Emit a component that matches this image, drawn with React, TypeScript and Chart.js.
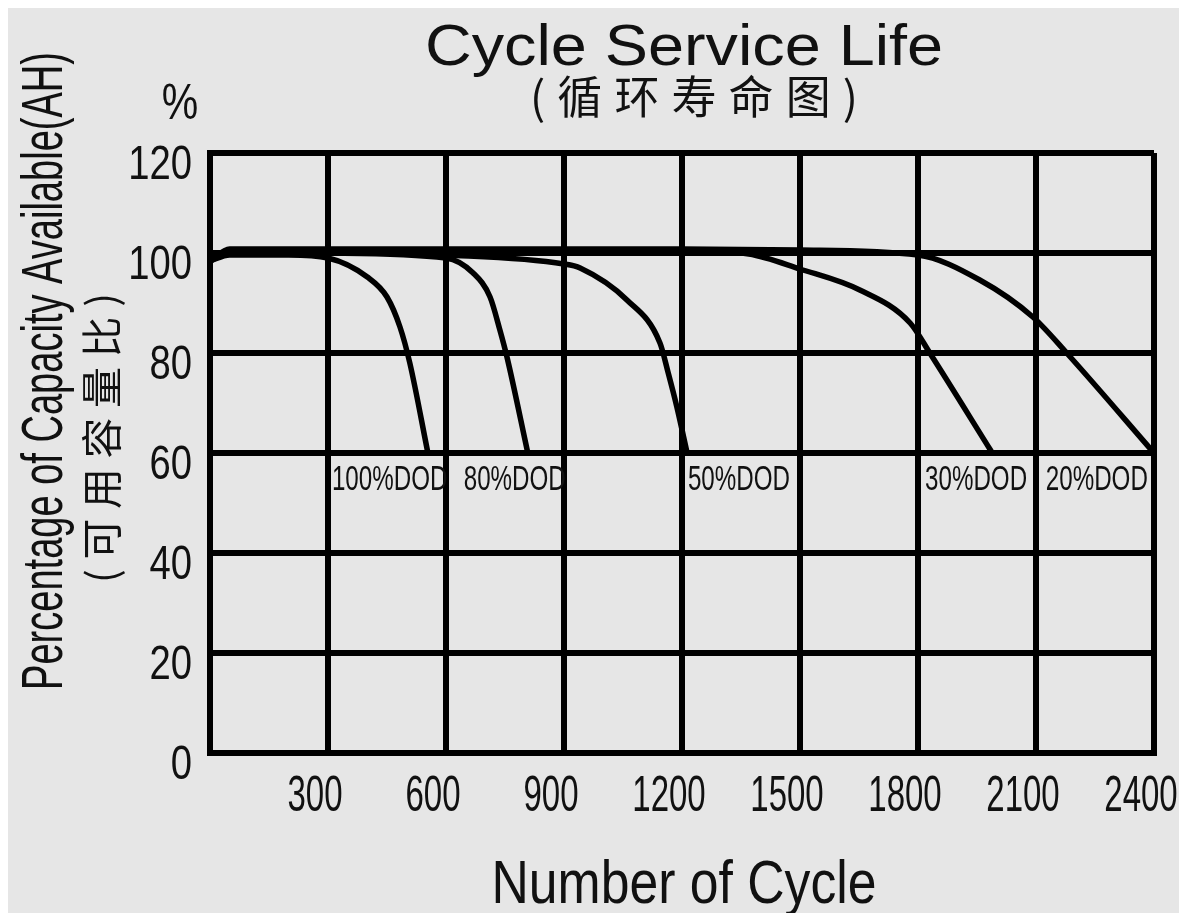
import React, { useEffect, useRef } from 'react';
import { Chart, registerables } from 'chart.js';

Chart.register(...registerables);

// ---- data (cycles vs % capacity) ----
const cycles100 = [0, 50, 200, 300, 400, 450, 483, 508, 554];
const capacity100 = [98.4, 99.6, 99.6, 99.0, 95.2, 91.2, 85.2, 78.0, 60.0];

const cycles80 = [0, 50, 300, 600, 669, 712, 737, 755, 808];
const capacity80 = [98.4, 100.2, 100.0, 99.0, 96.0, 91.2, 84.6, 79.2, 60.0];

const cycles50 = [0, 50, 300, 600, 900, 941, 1060, 1144, 1165, 1187, 1213];
const capacity50 = [98.4, 100.4, 100.2, 99.6, 97.8, 97.0, 90.6, 82.0, 76.0, 69.2, 60.0];

const cycles30 = [0, 50, 300, 600, 900, 1200, 1370, 1500, 1652, 1780, 1830, 1985];
const capacity30 = [98.4, 100.6, 100.6, 100.6, 100.6, 100.5, 99.8, 96.8, 92.6, 86.0, 80.0, 60.5];

const cycles20 = [0, 50, 300, 600, 900, 1200, 1500, 1800, 1957, 2092, 2178, 2400];
const capacity20 = [98.4, 100.8, 100.8, 100.8, 100.8, 100.8, 100.6, 99.6, 94.6, 87.2, 80.0, 60.0];

const yTickValues = [0, 20, 40, 60, 80, 100, 120];
const xTickValues = [300, 600, 900, 1200, 1500, 1800, 2100, 2400];

const dodLabels = ['100%DOD', '80%DOD', '50%DOD', '30%DOD', '20%DOD'];
const dodLabelCycle = [310, 645, 1215, 1818, 2125];
const dodLabelLevel = 60;

const titleText = 'Cycle Service Life';
const subtitleText = '(循环寿命图)';
const yTitleText = 'Percentage of Capacity Available(AH)';
const yTitleText2 = '(可用容量比)';
const xTitleText = 'Number of Cycle';
const unitText = '%';

const W = 1171;
const H = 905;
const LATIN = "'Liberation Sans', Arial, sans-serif";
const CJK = "'Noto Sans CJK SC', sans-serif";
const INK = '#111';

function drawScaled(ctx: CanvasRenderingContext2D, text: string, x: number, y: number, font: string, sx: number, align: CanvasTextAlign, baseline: CanvasTextBaseline, rot = 0) {
  ctx.save();
  ctx.font = font;
  ctx.fillStyle = INK;
  ctx.translate(x, y);
  ctx.rotate(rot);
  ctx.scale(sx, 1);
  ctx.textAlign = align;
  ctx.textBaseline = baseline;
  ctx.fillText(text, 0, 0);
  ctx.restore();
}

function drawFit(ctx: CanvasRenderingContext2D, text: string, x: number, y: number, font: string, len: number, baseline: CanvasTextBaseline, rot = 0) {
  ctx.save();
  ctx.font = font;
  const w = ctx.measureText(text).width;
  ctx.restore();
  drawScaled(ctx, text, x, y, font, len / w, 'center', baseline, rot);
}

function drawSpaced(ctx: CanvasRenderingContext2D, text: string, x: number, y: number, font: string, len: number, baseline: CanvasTextBaseline, rot = 0) {
  ctx.save();
  ctx.font = font;
  ctx.fillStyle = INK;
  const chars = Array.from(text);
  const widths = chars.map((c) => ctx.measureText(c).width);
  const total = widths.reduce((a, b) => a + b, 0);
  const gap = (len - total) / (chars.length - 1);
  ctx.translate(x, y);
  ctx.rotate(rot);
  ctx.textAlign = 'left';
  ctx.textBaseline = baseline;
  let cur = -len / 2;
  chars.forEach((c, i) => {
    ctx.fillText(c, cur, 0);
    cur += widths[i] + gap;
  });
  ctx.restore();
}

const textPlugin = {
  id: 'cycleTexts',
  afterDraw(chart: any) {
    const ctx: CanvasRenderingContext2D = chart.ctx;
    const { left, bottom } = chart.chartArea;
    const xs = chart.scales.x;
    const ys = chart.scales.y;

    // titles
    drawFit(ctx, titleText, 676, 57, `58px ${LATIN}`, 518, 'alphabetic');
    drawSpaced(ctx, subtitleText, 686, 89, `45px ${CJK}`, 328, 'middle');
    drawScaled(ctx, unitText, 172, 97, `50px ${LATIN}`, 0.82, 'center', 'middle');
    drawFit(ctx, yTitleText, 54, 363, `57px ${LATIN}`, 638, 'alphabetic', -Math.PI / 2);
    drawSpaced(ctx, yTitleText2, 93, 430, `41px ${CJK}`, 290, 'middle', -Math.PI / 2);
    drawFit(ctx, xTitleText, 676, 895, `62px ${LATIN}`, 385, 'alphabetic');

    // tick labels
    yTickValues.forEach((v) => {
      drawScaled(ctx, String(v), left - 18, ys.getPixelForValue(v) + 12, `49px ${LATIN}`, 0.78, 'right', 'middle');
    });
    xTickValues.forEach((v) => {
      drawScaled(ctx, String(v), xs.getPixelForValue(v) - 13, bottom + 44, `50px ${LATIN}`, 0.66, 'center', 'middle');
    });

    // DOD labels
    dodLabels.forEach((t, i) => {
      drawScaled(ctx, t, xs.getPixelForValue(dodLabelCycle[i]), ys.getPixelForValue(dodLabelLevel) + 37, `35px ${LATIN}`, 0.69, 'left', 'alphabetic');
    });
  },
};

export default function App() {
  const ref = useRef<HTMLCanvasElement>(null);

  useEffect(() => {
    if (!ref.current) return;
    const toPts = (xs: number[], ys: number[]) => xs.map((x, i) => ({ x, y: ys[i] }));
    const series: [number[], number[]][] = [
      [cycles100, capacity100],
      [cycles80, capacity80],
      [cycles50, capacity50],
      [cycles30, capacity30],
      [cycles20, capacity20],
    ];
    const gridStyle = { color: '#000', lineWidth: 6, drawTicks: false };
    const borderStyle = { display: true, color: '#000', width: 6 };
    const chart = new Chart(ref.current, {
      type: 'line',
      data: {
        datasets: series.map(([xs, ys], i) => ({
          label: dodLabels[i],
          data: toPts(xs, ys),
          borderColor: '#000',
          borderWidth: 5.5,
          pointRadius: 0,
          cubicInterpolationMode: 'monotone',
          fill: false,
          borderCapStyle: 'round',
          borderJoinStyle: 'round',
        })),
      },
      options: {
        responsive: false,
        animation: false,
        devicePixelRatio: 1,
        layout: { padding: { left: 202, top: 145, right: 25, bottom: 160 } },
        plugins: { legend: { display: false }, tooltip: { enabled: false }, title: { display: false } },
        scales: {
          x: {
            type: 'linear',
            min: 0,
            max: 2400,
            ticks: { display: false, stepSize: 300 },
            grid: gridStyle,
            border: borderStyle,
          },
          y: {
            type: 'linear',
            min: 0,
            max: 120,
            ticks: { display: false, stepSize: 20 },
            grid: gridStyle,
            border: borderStyle,
          },
        },
      } as any,
      plugins: [textPlugin],
    });
    return () => chart.destroy();
  }, []);

  return (
    <div style={{ position: 'fixed', left: 8, top: 8, width: W, height: H, background: '#e6e6e6' }}>
      <canvas ref={ref} width={W} height={H} style={{ display: 'block', width: W, height: H }} />
    </div>
  );
}
